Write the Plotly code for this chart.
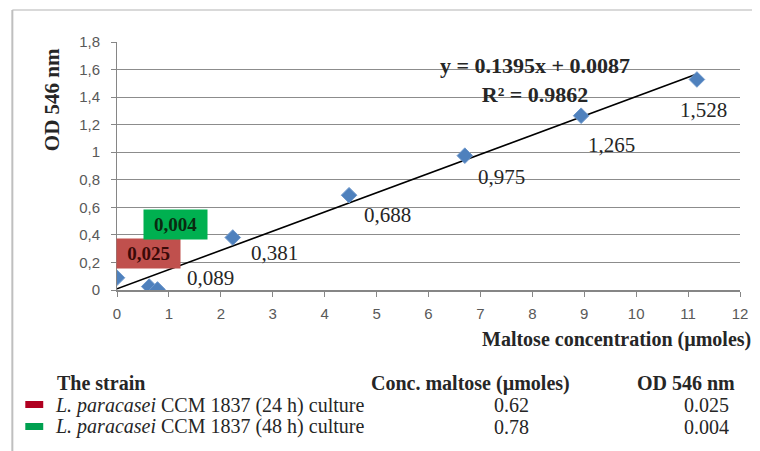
import plotly.graph_objects as go

# ---- data ----
std_x = [0, 2.23, 4.47, 6.7, 8.94, 11.17]
std_y = [0.089, 0.381, 0.688, 0.975, 1.265, 1.528]
std_labels = ["0,089", "0,381", "0,688", "0,975", "1,265", "1,528"]
sample_x = [0.62, 0.78]
sample_y = [0.025, 0.004]
sample_names = ["<i>L. paracasei</i> CCM 1837 (24 h) culture",
                "<i>L. paracasei</i> CCM 1837 (48 h) culture"]
sample_colors = ["#C0504D", "#00B050"]
legend_colors = ["#B00020", "#00A050"]
slope = 0.1395
intercept = 0.0087
r2 = 0.9862
y_tickvals = [0, 0.2, 0.4, 0.6, 0.8, 1.0, 1.2, 1.4, 1.6, 1.8]
y_ticktext = ["0", "0,2", "0,4", "0,6", "0,8", "1", "1,2", "1,4", "1,6", "1,8"]
x_tickvals = list(range(0, 13))

# ---- layout geometry (page pixels; page body has an 8px margin) ----
OFF = 8
PAGE_W, PAGE_H = 760, 451
W, H = PAGE_W - OFF, PAGE_H - OFF
PL, PR, PT, PB = 117, 742, 42, 290          # plot area in page pixels
L, T = PL - OFF, PT - OFF
R, B = W - (PR - OFF), H - (PB - OFF)
PW, PH = PR - PL, PB - PT


def px(xp):
    return (xp - PL) / PW


def py(yp):
    return (PB - yp) / PH


fig = go.Figure()

# trendline
x_all = std_x + sample_x
x0, x1 = min(x_all), max(x_all)
fig.add_trace(go.Scatter(x=[x0, x1], y=[slope * x0 + intercept, slope * x1 + intercept],
                         mode="lines", line=dict(color="#000000", width=1.6),
                         showlegend=False, hoverinfo="skip"))
# points
fig.add_trace(go.Scatter(x=std_x + sample_x, y=std_y + sample_y, mode="markers",
                         marker=dict(symbol="diamond", size=12, color="#4F81BD",
                                     line=dict(color="#6E98CC", width=1)),
                         showlegend=False))

serif = "Liberation Serif"
ann = []
# data labels
offsets = [(93, 0), (42, 15), (38, 20), (37, 21), (30, 29), (7, 31)]
for xv, yv, lab, (dx, dy) in zip(std_x, std_y, std_labels, offsets):
    ann.append(dict(x=xv, y=yv, text=lab, showarrow=True, arrowcolor="rgba(0,0,0,0)",
                    ax=dx, ay=dy, font=dict(family=serif, size=21, color="#262626")))

# sample boxes
box_offsets = [(-1, -33), (18, -65)]
text_cols = ["#3a0a08", "#0a2a10"]
for xv, yv, c, tc, (dx, dy) in zip(sample_x, sample_y, sample_colors, text_cols, box_offsets):
    ann.append(dict(x=xv, y=yv, text="<b>" + ("%.3f" % yv).replace(".", ",") + "</b>",
                    showarrow=True, arrowcolor="rgba(0,0,0,0)", ax=dx, ay=dy,
                    bgcolor=c, borderpad=4, width=55,
                    font=dict(family=serif, size=19, color=tc)))

# equation
ann.append(dict(x=8.06, y=1.524, xref="x", yref="y", showarrow=False,
                xanchor="center", yanchor="middle",
                text="<b>y = %.4fx + %.4f<br>R² = %.4f</b>" % (slope, intercept, r2),
                font=dict(family=serif, size=22, color="#262626")))

# axis titles
ann.append(dict(x=px(755), y=py(339), xref="paper", yref="paper",
                xanchor="right", yanchor="middle",
                showarrow=False, text="<b>Maltose concentration (µmoles)</b>",
                font=dict(family=serif, size=20, color="#262626")))
ann.append(dict(x=px(52), y=py(100), xref="paper", yref="paper", textangle=-90,
                xanchor="center", yanchor="middle",
                showarrow=False, text="<b>OD 546 nm</b>",
                font=dict(family=serif, size=21, color="#262626")))

# table below
tf = dict(family=serif, size=20, color="#262626")
ann.append(dict(x=px(55), y=py(383), xref="paper", yref="paper",
                xanchor="left", yanchor="middle",
                showarrow=False, text="<b>The strain</b>", font=tf))
ann.append(dict(x=px(472), y=py(383), xref="paper", yref="paper",
                xanchor="center", yanchor="middle",
                showarrow=False, text="<b>Conc. maltose (µmoles)</b>", font=tf))
ann.append(dict(x=px(688), y=py(383), xref="paper", yref="paper",
                xanchor="center", yanchor="middle",
                showarrow=False, text="<b>OD 546 nm</b>", font=tf))
shapes = []
row_y = [405, 427]
for name, xv, yv, lc, ry in zip(sample_names, sample_x, sample_y, legend_colors, row_y):
    ann.append(dict(x=px(53), y=py(ry), xref="paper", yref="paper",
                    xanchor="left", yanchor="middle",
                    showarrow=False, text=name, font=tf))
    ann.append(dict(x=px(513), y=py(ry), xref="paper", yref="paper",
                    xanchor="center", yanchor="middle",
                    showarrow=False, text="%.2f" % xv, font=tf))
    ann.append(dict(x=px(708), y=py(ry), xref="paper", yref="paper",
                    xanchor="center", yanchor="middle",
                    showarrow=False, text="%.3f" % yv, font=tf))
    shapes.append(dict(type="rect", xref="paper", yref="paper",
                       x0=px(25), x1=px(43), y0=py(ry + 3), y1=py(ry - 4),
                       fillcolor=lc, line=dict(width=0)))

# outer border (top and left)
shapes.append(dict(type="line", xref="paper", yref="paper", x0=px(12), x1=px(770),
                   y0=py(10), y1=py(10), line=dict(color="#D9D9D9", width=2)))
shapes.append(dict(type="line", xref="paper", yref="paper", x0=px(12), x1=px(12),
                   y0=py(10), y1=py(460), line=dict(color="#BFBFBF", width=2)))

fig.update_layout(
    width=W, height=H, margin=dict(l=L, r=R, t=T, b=B),
    paper_bgcolor="white", plot_bgcolor="white",
    annotations=ann, shapes=shapes, showlegend=False,
    xaxis=dict(range=[0, 12], tickvals=x_tickvals, showgrid=False, zeroline=False,
               showline=True, linecolor="#868686", linewidth=1.5, ticks="outside",
               ticklen=5, tickcolor="#868686", ticklabelstandoff=4,
               tickfont=dict(family="Liberation Sans", size=15, color="#595959")),
    yaxis=dict(range=[0, 1.8], tickvals=y_tickvals, ticktext=y_ticktext,
               showgrid=True, gridcolor="#8C8C8C", gridwidth=1, zeroline=False,
               showline=True, linecolor="#868686", linewidth=1, ticks="outside",
               ticklen=5, tickcolor="#868686", ticklabelstandoff=8,
               tickfont=dict(family="Liberation Sans", size=15, color="#595959")),
)

fig.write_html("out.html")
